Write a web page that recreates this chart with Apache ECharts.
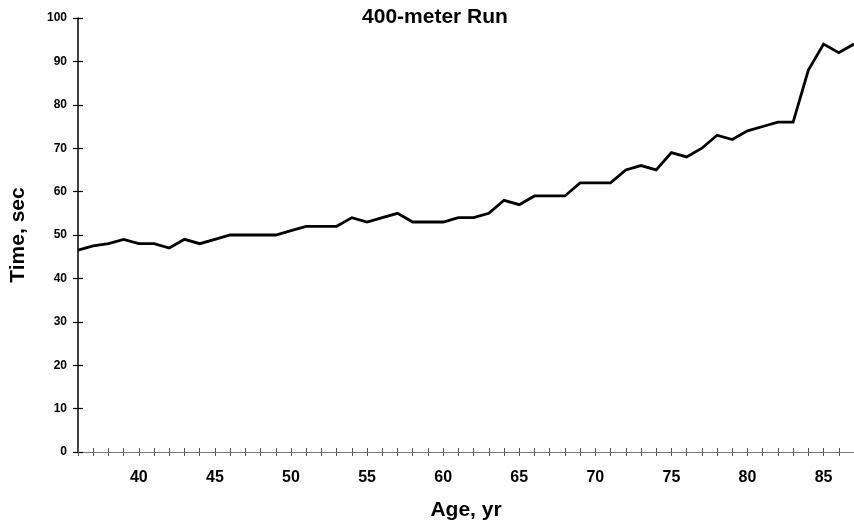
<!DOCTYPE html>
<html>
<head>
<meta charset="utf-8">
<script src="https://cdn.jsdelivr.net/npm/echarts@6/dist/echarts.min.js"></script>
<style>html,body{margin:0;padding:0;background:#fff}#c{width:854px;height:527px}</style>
</head>
<body>
<div id="c"></div>
<script>
const ages = [36,37,38,39,40,41,42,43,44,45,46,47,48,49,50,51,52,53,54,55,56,57,58,59,60,61,62,63,64,65,66,67,68,69,70,71,72,73,74,75,76,77,78,79,80,81,82,83,84,85,86,87];
const times = [46.5,47.5,48,49,48,48,47,49,48,49,50,50,50,50,51,52,52,52,54,53,54,55,53,53,53,54,54,55,58,57,59,59,59,62,62,62,65,66,65,69,68,70,73,72,74,75,76,76,88,94,92,94];
const yTicks = [0,10,20,30,40,50,60,70,80,90,100];
const titleText = '400-meter Run';
const xName = 'Age, yr';
const yName = 'Time, sec';

const chart = echarts.init(document.getElementById('c'), null, {renderer:'canvas'});
const font = 'Liberation Sans, Arial, sans-serif';
chart.setOption({
  animation:false,
  backgroundColor:'#fff',
  title:{text:titleText,left:430,textAlign:'center',top:2,textStyle:{fontFamily:font,fontWeight:'bold',fontSize:21,color:'#000'}},
  grid:{left:78,right:0,top:18,bottom:75,containLabel:false,outerBoundsMode:'none'},
  xAxis:[{
    type:'category',data:ages.map(String),boundaryGap:false,
    name:xName,nameLocation:'middle',nameGap:48,
    nameTextStyle:{fontFamily:font,fontWeight:'bold',fontSize:21,color:'#000'},
    axisLine:{lineStyle:{color:'#777',width:1}},
    axisTick:{show:true,interval:0,length:4,lineStyle:{color:'#555'}},
    axisLabel:{interval:(i,v)=>Number(v)%5===0,margin:18,fontFamily:font,fontWeight:'bold',fontSize:16,color:'#000'},
    splitLine:{show:false}
  },{
    type:'category',data:ages.map(String),boundaryGap:false,position:'bottom',
    axisLine:{show:false},
    axisTick:{show:true,inside:true,interval:0,length:4,lineStyle:{color:'#555'}},
    axisLabel:{show:false},splitLine:{show:false}
  }],
  yAxis:[{
    type:'value',min:0,max:100,interval:10,
    name:yName,nameLocation:'middle',nameGap:49,
    nameTextStyle:{fontFamily:font,fontWeight:'bold',fontSize:21,color:'#000'},
    axisLine:{show:true,lineStyle:{color:'#000',width:1.5}},
    axisTick:{show:true,length:5,lineStyle:{color:'#000',width:1.2}},
    axisLabel:{margin:11,fontFamily:font,fontWeight:'bold',fontSize:12,color:'#000',
      formatter:v=>yTicks.includes(v)?String(v):''},
    splitLine:{show:false}
  },{
    type:'value',min:0,max:100,interval:10,position:'left',
    axisLine:{show:false},
    axisTick:{show:true,inside:true,length:5,lineStyle:{color:'#000',width:1.2}},
    axisLabel:{show:false},splitLine:{show:false}
  }],
  series:[{
    type:'line',data:times,xAxisIndex:0,yAxisIndex:0,
    showSymbol:false,symbol:'none',
    lineStyle:{color:'#000',width:2.8,join:'miter'}
  }]
});
</script>
</body>
</html>
